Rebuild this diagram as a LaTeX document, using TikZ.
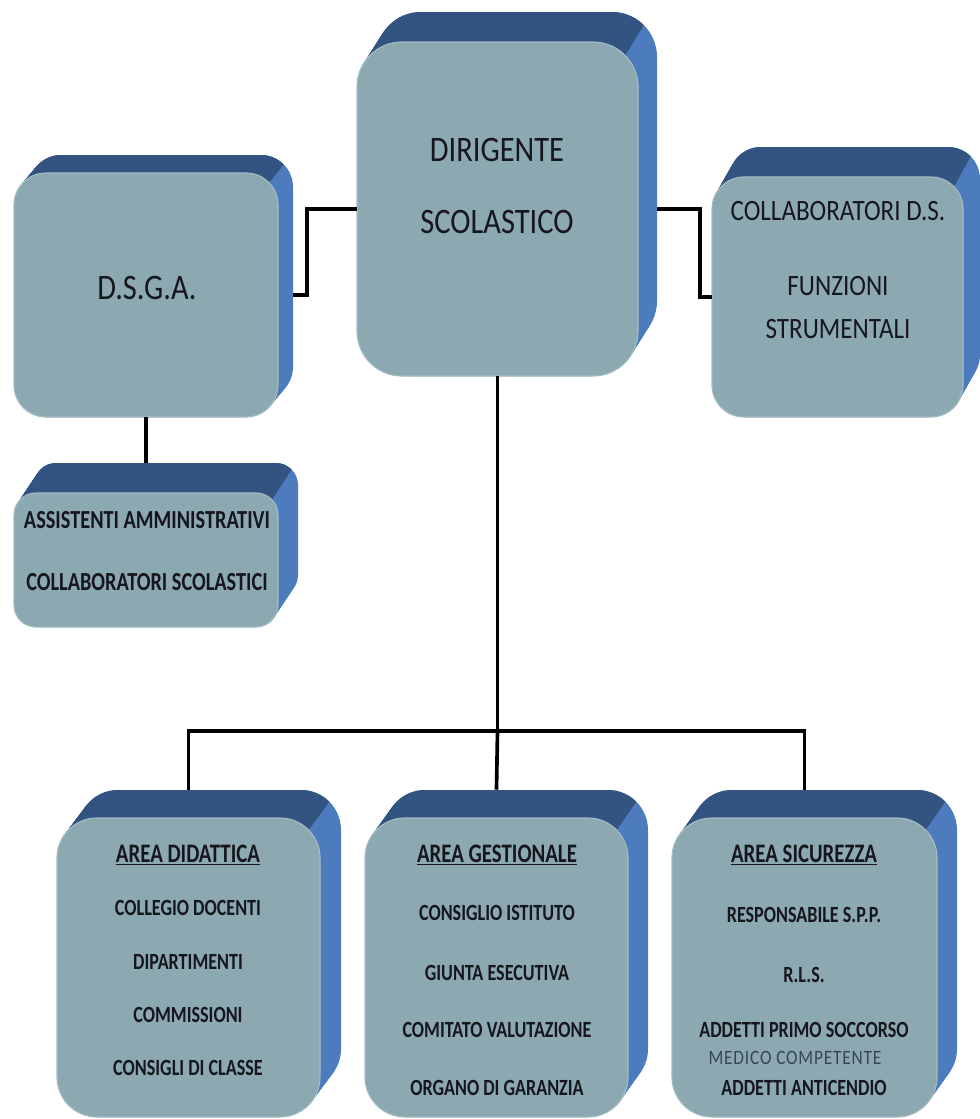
\documentclass[tikz,border=0pt]{standalone}
\usepackage{fontspec}
\setmainfont{Carlito}[FakeStretch=0.85, BoldFeatures={FakeStretch=0.78}]
\usetikzlibrary{fit}

\definecolor{facegray}{RGB}{140,168,176}
\definecolor{edgegray}{RGB}{165,188,196}
\definecolor{topnavy}{RGB}{51,84,128}
\definecolor{sideblue}{RGB}{76,124,190}
\definecolor{inkblack}{RGB}{22,22,30}
\definecolor{slatetext}{RGB}{55,70,85}

\tikzset{
  link/.style={line width=2.6pt, black},
  bigtext/.style={align=center, text=inkblack, font=\fontsize{25.5}{51}\selectfont},
  sidetext/.style={align=center, text=inkblack, font=\fontsize{21}{30.6}\selectfont},
  midtext/.style={align=center, text=inkblack, font=\fontsize{18.5}{44}\selectfont\bfseries},
  areahead/.style={text=inkblack, font=\fontsize{19}{20}\selectfont\bfseries},
  areaitem/.style={text=inkblack, font=\fontsize{16.5}{18}\selectfont\bfseries}
}

% #1 name, (#2,#3)-(#4,#5) front face, #6 corner radius, (#7,#8) depth right/up
\newcommand{\solidbox}[8]{%
  \foreach \i in {0,...,12}
    \fill[sideblue, rounded corners={#6*0.71pt}]
      ({#2+\i*#7/12},{#3-\i*#8/12}) rectangle ({#4+\i*#7/12},{#5-\i*#8/12});
  \begin{scope}
    \clip ({#2-40},{#3+#6}) -- ({#2+#6},{#3+#6}) -- ({#4-0.3*#6},{#3+0.3*#6})
      -- ++({3*#7},{-3*#8}) -- ({#2-40},{#3-3*#8}) -- cycle;
    \foreach \i in {0,...,12}
      \fill[topnavy, rounded corners={#6*0.71pt}]
        ({#2+\i*#7/12},{#3-\i*#8/12}) rectangle ({#4+\i*#7/12},{#5-\i*#8/12});
  \end{scope}
  \fill[facegray, draw=edgegray, line width=0.8pt, rounded corners={#6*0.71pt}]
    (#2,#3) rectangle (#4,#5);
  \node[fit={(#2,#3) (#4,#5)}, inner sep=0pt] (#1) {};
  \node[fit={({#2+#7},{#3-#8}) ({#4+#7},{#5-#8})}, inner sep=0pt] (#1 back) {};
}

\begin{document}
\begin{tikzpicture}[x=0.025cm, y=-0.025cm]
\useasboundingbox (0,0) rectangle (980,1119);

% boxes
\solidbox{ds}{357}{42}{638}{376}{45}{19}{30}
\solidbox{dsga}{14}{173}{278}{417}{32}{15}{18}
\solidbox{collab}{712}{177}{963}{417}{32}{17}{30}
\solidbox{assist}{14}{493}{278}{627}{22}{20}{30}
\solidbox{did}{57}{818}{320}{1117}{40}{21}{28}
\solidbox{ges}{365}{818}{628}{1117}{40}{20}{28}
\solidbox{sic}{672}{818}{937}{1117}{40}{20}{28}

% texts
\node[bigtext] (ds-text) at (497,186) {DIRIGENTE\\SCOLASTICO};
\node[bigtext] (dsga-text) at (147,288) {D.S.G.A.};
\node[sidetext] (collab-text) at (838,211) {COLLABORATORI D.S.};
\node[sidetext] (fs-text) at (838,308) {FUNZIONI\\STRUMENTALI};
\node[midtext] (assist-text) at (147,551) {ASSISTENTI AMMINISTRATIVI\\COLLABORATORI SCOLASTICI};

\node[areahead] (did-head) at (188,855) {\underline{AREA DIDATTICA}};
\foreach \y/\t in {908/COLLEGIO DOCENTI, 962/DIPARTIMENTI, 1015/COMMISSIONI, 1068/CONSIGLI DI CLASSE}
  \node[areaitem] (did-\y) at (188,\y) {\t};

\node[areahead] (ges-head) at (497,855) {\underline{AREA GESTIONALE}};
\foreach \y/\t in {913/CONSIGLIO ISTITUTO, 973/GIUNTA ESECUTIVA, 1030/COMITATO VALUTAZIONE, 1088/ORGANO DI GARANZIA}
  \node[areaitem] (ges-\y) at (497,\y) {\t};

\node[areahead] (sic-head) at (804,855) {\underline{AREA SICUREZZA}};
\foreach \y/\t in {915/RESPONSABILE S.P.P., 975/R.L.S., 1030/ADDETTI PRIMO SOCCORSO, 1088/ADDETTI ANTICENDIO}
  \node[areaitem] (sic-\y) at (804,\y) {\t};
\node[text=slatetext, font=\fontsize{14.5}{16}\selectfont\addfontfeature{LetterSpace=4}] (sic-medico) at (795,1058) {MEDICO COMPETENTE};

% connectors
\draw[link] (ds.west) -- ++(-50,0) |- (dsga.east -| dsga back.east);
\draw[link] (ds.west -| ds back.east) -- ++(43,0) |- (collab.west);
\draw[link] (dsga.south) -- (dsga.south |- assist back.north);
\draw[link] (ds.south) -- ++(0,355) coordinate (bus);
\draw[link] (did.north |- did back.north) |- (bus) -| (sic.north |- sic back.north);
\draw[link] (bus) -- (ges.north |- ges back.north);
\end{tikzpicture}
\end{document}
